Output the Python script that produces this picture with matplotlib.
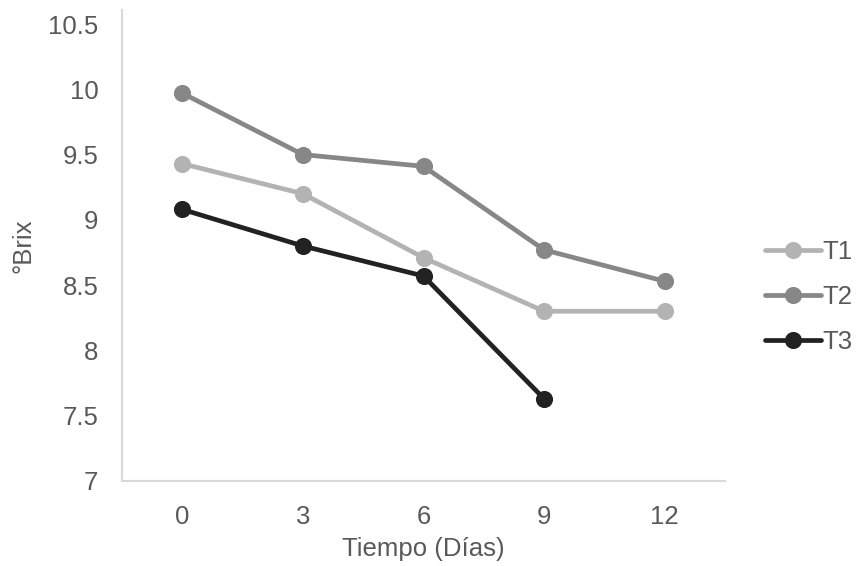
import matplotlib
matplotlib.use("Agg")
import matplotlib.pyplot as plt

plt.rcParams['font.family'] = ['Liberation Sans', 'DejaVu Sans']

days = ["0", "3", "6", "9", "12"]
t1 = [9.43, 9.20, 8.71, 8.30, 8.30]
t2 = [9.97, 9.50, 9.41, 8.77, 8.53]
t3 = [9.08, 8.80, 8.57, 7.63]
labels = ["T1", "T2", "T3"]
colors = ["#B3B3B3", "#878787", "#222222"]
yticks = [7, 7.5, 8, 8.5, 9, 9.5, 10, 10.5]

fig = plt.figure(figsize=(8.57, 5.66), dpi=100)
ax = fig.add_axes([122/857, 1-481/566, (725-122)/857, (481-10)/566])

xpos = list(range(len(days)))
for series, lab, col in zip([t1, t2, t3], labels, colors):
    ax.plot(xpos[:len(series)], series, color=col, lw=3.4, marker='o',
            markersize=11.3, label=lab, solid_capstyle='round')

ax.set_xlim(-0.5, len(days) - 0.5)
ax.set_ylim(7, 7 + (481 - 10) / 130.57)
ax.set_yticks(yticks)
ax.set_yticklabels([f"{v:g}" for v in yticks])
ax.set_xticks(xpos)
ax.set_xticklabels(days)

for s in ['top', 'right']:
    ax.spines[s].set_visible(False)
for s in ['left', 'bottom']:
    ax.spines[s].set_color('#D9D9D9')
    ax.spines[s].set_linewidth(1.5)
ax.tick_params(axis='both', length=0, labelsize=18.5, labelcolor='#595959')
ax.tick_params(axis='y', pad=17)
ax.tick_params(axis='x', pad=17)

ax.set_xlabel("Tiempo (Días)", fontsize=18.5, color='#595959', labelpad=6)
ax.set_ylabel("°Brix", fontsize=18.5, color='#595959', labelpad=9)

leg = ax.legend(loc='center left', bbox_to_anchor=(1.049, 0.39), frameon=False,
                fontsize=18.5, handlelength=2.2, handletextpad=0.05,
                labelspacing=0.82, borderaxespad=0)
for t in leg.get_texts():
    t.set_color('#595959')

fig.savefig("out.png", dpi=100)
